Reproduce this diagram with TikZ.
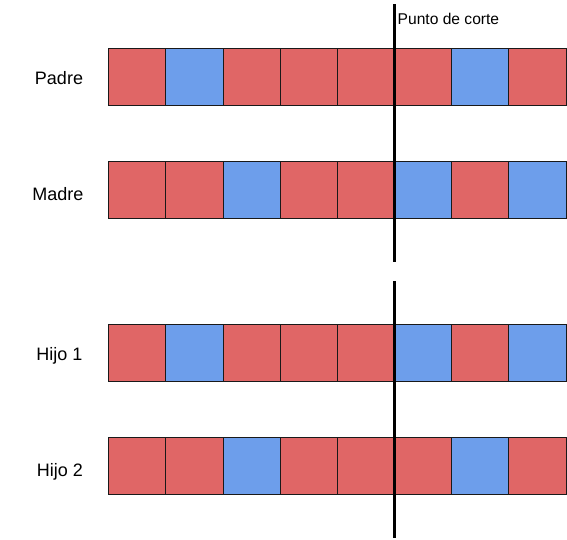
\documentclass[tikz,border=0pt]{standalone}
\usepackage{fontspec}
\setmainfont{Liberation Sans}
\definecolor{R}{HTML}{E06666}
\definecolor{B}{HTML}{6D9EEB}
\begin{document}
\begin{tikzpicture}[x=1pt,y=-1pt,
  cell/.style={draw=black!90,line width=0.9pt,minimum width=57.17pt,minimum height=57pt,inner sep=0pt,anchor=north west},
  rowlabel/.style={font=\fontsize{18}{20}\selectfont,anchor=base,inner sep=0pt},
  cutline/.style={line width=3pt,black}]
\useasboundingbox (0,0) rectangle (567,539);
\def\w{57.17}
\foreach \lab/\yy/\pat/\nm/\lx/\ly in {Padre/48.3/{R,B,R,R,R,R,B,R}/p/59/84.3, Madre/161/{R,R,B,R,R,B,R,B}/m/57.8/200.7, Hijo 1/324/{R,B,R,R,R,B,R,B}/h/59.5/360.7, Hijo 2/437/{R,R,B,R,R,R,B,R}/k/60/476.7}{
  \node[rowlabel] (lab\nm) at (\lx,\ly) {\lab};
  \foreach \c [count=\i from 0] in \pat {
    \node[cell,fill=\c] (\nm\i) at (108.3+\i*\w,\yy) {};
  }
}
\coordinate (c1a) at (394,4);
\coordinate (c1b) at (394,262);
\coordinate (c2a) at (394,281);
\coordinate (c2b) at (394,538);
\draw[cutline] (c1a) -- (c1b);
\draw[cutline] (c2a) -- (c2b);
\node[anchor=west,inner sep=0pt,font=\fontsize{15.6}{17}\selectfont] (punto) at (397.5,18.5) {Punto de corte};
\end{tikzpicture}
\end{document}
